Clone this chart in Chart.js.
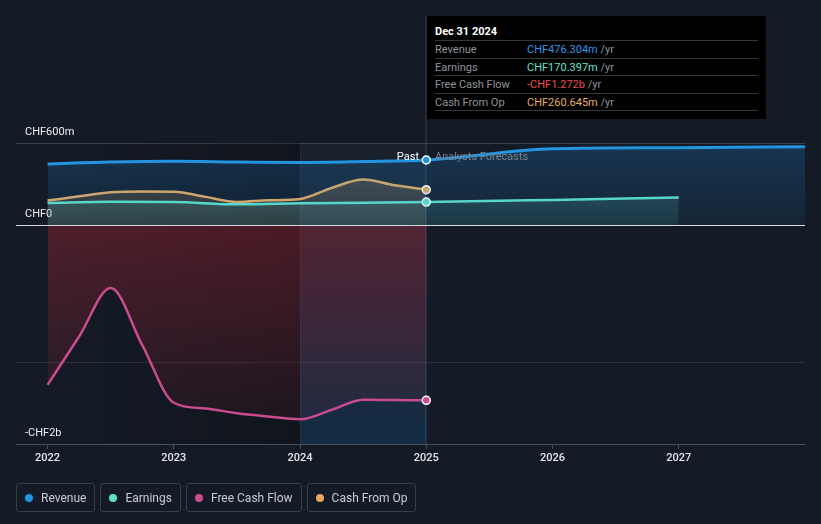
<!DOCTYPE html>
<html>
<head>
<meta charset="utf-8">
<script src="https://cdn.jsdelivr.net/npm/chart.js@4.4.1/dist/chart.umd.min.js"></script>
<style>
  html, body { margin: 0; padding: 0; background: #151b26; }
  #wrap { position: relative; width: 821px; height: 524px; overflow: hidden; font-family: Roboto, "Open Sans", sans-serif; }
  #chart { position: absolute; left: 0; top: 0; }
  #tip { position: absolute; left: 427px; top: 16px; width: 339px; height: 103px; background: #000; box-sizing: border-box; padding: 8px 8px 0 8px; }
  #tip .date { color: #fff; font-size: 11px; font-weight: 700; height: 16px; line-height: 15px; border-bottom: 1px solid #34373c; }
  #tip .row { display: flex; height: 16.5px; line-height: 17px; font-size: 11px; border-bottom: 1px solid #34373c; }
  #tip .k { width: 92px; color: #8f949b; }
  #tip .u { color: #8f949b; }
  .mark { position: absolute; font-size: 11px; top: 150px; line-height: 14px; }
  #past { right: 402px; color: #fff; }
  #fc { left: 435px; color: #7c828b; }
  #legend { position: absolute; left: 16px; top: 483px; display: flex; gap: 5px; }
  #legend .item { height: 27px; border: 1px solid #383d47; border-radius: 3px; display: flex; align-items: center; padding: 0 8px; font-size: 12px; color: #c9ccd1; }
  #legend .dot { width: 8px; height: 8px; border-radius: 50%; margin-right: 8px; }
</style>
</head>
<body>
<div id="wrap">
  <canvas id="chart" width="821" height="524"></canvas>
  <div id="tip"></div>
  <div class="mark" id="past">Past</div>
  <div class="mark" id="fc">Analysts Forecasts</div>
  <div id="legend"></div>
</div>
<script>
"use strict";

// series data (CHF m), x = year
const revenueYears = [2022, 2022.5, 2023, 2023.5, 2024, 2024.5, 2025, 2026, 2027, 2028];
const revenueValues = [448, 462, 467, 462, 458, 465, 476.304, 558, 566, 573];

const earningsYears = [2022, 2022.5, 2023, 2023.5, 2024, 2024.5, 2025, 2026, 2027];
const earningsValues = [164, 172, 171, 154, 161, 165, 170.397, 186, 203];

const fcfYears = [2022, 2022.25, 2022.5, 2022.75, 2023, 2023.25, 2023.5, 2023.75, 2024, 2024.25, 2024.5, 2024.75, 2025];
const fcfValues = [-1160, -808, -455, -870, -1290, -1332, -1366, -1390, -1410, -1342, -1268, -1270, -1272];

const cfoYears = [2022, 2022.25, 2022.5, 2022.75, 2023, 2023.25, 2023.5, 2023.75, 2024, 2024.25, 2024.5, 2024.75, 2025];
const cfoValues = [181, 212, 241, 247, 246, 208, 171, 183, 193, 273, 334, 292, 260.645];

const seriesNames = ['Revenue', 'Earnings', 'Free Cash Flow', 'Cash From Op'];
const seriesColors = ['#2394df', '#5fe0c8', '#cc4a8e', '#e8a95b'];

const xTicks = [2022, 2023, 2024, 2025, 2026, 2027];
const yTickValues = [-1590, -1000, 0, 600];
const yTickLabels = ['-CHF2b', '', 'CHF0', 'CHF600m'];

const tipDate = 'Dec 31 2024';
const tipValues = ['CHF476.304m', 'CHF170.397m', '-CHF1.272b', 'CHF260.645m'];
const tipColors = ['#2f97e2', '#63e3cc', '#f04a4a', '#e8ad63'];

const toPoints = (xs, ys) => xs.map((x, i) => ({ x: x, y: ys[i] }));

// vertical gradient between two values
const vGrad = (ctx, from, to, c1, c2) => {
    const chart = ctx.chart;
    if (!chart.chartArea) return c1;
    const y = chart.scales.y;
    const g = chart.ctx.createLinearGradient(0, y.getPixelForValue(from), 0, y.getPixelForValue(to));
    g.addColorStop(0, c1);
    g.addColorStop(1, c2);
    return g;
};

const markerRadius = (ctx) => (ctx.raw && ctx.raw.x === 2025) ? 4 : 0;

const makeSet = (i, data, width, fill) => ({
    label: seriesNames[i],
    data: data,
    borderColor: seriesColors[i],
    borderWidth: width,
    backgroundColor: fill,
    fill: 'origin',
    cubicInterpolationMode: 'monotone',
    pointRadius: markerRadius,
    pointBackgroundColor: seriesColors[i],
    pointBorderColor: '#ffffff',
    pointBorderWidth: 1.5
});

// background bands, hover line
const bandPlugin = {
    id: 'bands',
    beforeDatasetsDraw(chart) {
        const c = chart.ctx;
        const a = chart.chartArea;
        const x = chart.scales.x;
        const x22 = x.getPixelForValue(2022);
        const x24 = x.getPixelForValue(2024);
        const x25 = x.getPixelForValue(2025);
        c.save();
        let g = c.createLinearGradient(x22, 0, x24, 0);
        g.addColorStop(0, 'rgba(0,0,0,0)');
        g.addColorStop(1, 'rgba(0,0,0,0.22)');
        c.fillStyle = g;
        c.fillRect(x22, a.top, x24 - x22, a.bottom - a.top);
        g = c.createLinearGradient(0, a.top, 0, a.bottom);
        g.addColorStop(0, 'rgba(60,80,110,0.10)');
        g.addColorStop(1, 'rgba(20,85,140,0.30)');
        c.fillStyle = g;
        c.fillRect(x24, a.top, x25 - x24, a.bottom - a.top);
        c.fillStyle = 'rgba(255,255,255,0.05)';
        c.fillRect(Math.round(x24), a.top, 1, a.bottom - a.top);
        c.fillStyle = 'rgba(70,100,130,0.55)';
        c.fillRect(Math.round(x25) - 0.5, 16, 1, a.bottom - 16);
        c.restore();
    },
    afterDatasetsDraw(chart) {
        const c = chart.ctx;
        const a = chart.chartArea;
        const y0 = Math.round(chart.scales.y.getPixelForValue(0)) + 0.5;
        c.save();
        c.strokeStyle = '#d9dadc';
        c.lineWidth = 1;
        c.beginPath();
        c.moveTo(a.left, y0);
        c.lineTo(a.right, y0);
        c.stroke();
        c.restore();
    }
};

const datasets = [
    makeSet(0, toPoints(revenueYears, revenueValues), 3,
        (ctx) => vGrad(ctx, 600, 0, 'rgba(31,142,224,0.24)', 'rgba(31,142,224,0.08)')),
    makeSet(1, toPoints(earningsYears, earningsValues), 2.5,
        (ctx) => vGrad(ctx, 200, 0, 'rgba(95,224,200,0.17)', 'rgba(95,224,200,0.10)')),
    makeSet(2, toPoints(fcfYears, fcfValues), 2.5,
        (ctx) => vGrad(ctx, 0, -1590, 'rgba(200,40,55,0.32)', 'rgba(200,40,55,0.04)')),
    makeSet(3, toPoints(cfoYears, cfoValues), 2.5,
        (ctx) => vGrad(ctx, 300, 0, 'rgba(232,169,91,0.20)', 'rgba(232,169,91,0.10)'))
];

new Chart(document.getElementById('chart'), {
    type: 'line',
    data: { datasets: datasets },
    options: {
        responsive: false,
        animation: false,
        layout: { padding: { top: 143, left: 16, right: 16, bottom: 0 } },
        plugins: {
            legend: { display: false },
            tooltip: { enabled: false }
        },
        scales: {
            x: {
                type: 'linear',
                min: 2021.75,
                max: 2028,
                afterBuildTicks: (s) => { s.ticks = xTicks.map((v) => ({ value: v })); },
                afterFit: (s) => { s.height = 80; },
                grid: { drawOnChartArea: false, drawTicks: true, tickLength: 5, color: '#4a4f58' },
                border: { color: '#4a4f58' },
                ticks: {
                    color: '#e3e5e8',
                    font: { size: 11, family: 'Roboto', weight: '500' },
                    padding: 3,
                    maxRotation: 0,
                    callback: (v) => String(v)
                }
            },
            y: {
                min: -1590,
                max: 600,
                afterBuildTicks: (s) => { s.ticks = yTickValues.map((v) => ({ value: v })); },
                afterFit: (s) => { s.width = 0; },
                grid: {
                    drawTicks: false,
                    color: (ctx) => (ctx.tick && ctx.tick.value === -1000) ? '#2b313b' : '#3b404a'
                },
                border: { display: false },
                ticks: {
                    mirror: true,
                    padding: 9,
                    labelOffset: -11,
                    color: '#eceef0',
                    font: { size: 11, family: 'Roboto' },
                    callback: (v) => {
                        const i = yTickValues.indexOf(v);
                        return i >= 0 ? yTickLabels[i] : '';
                    }
                }
            }
        }
    },
    plugins: [bandPlugin]
});

// tooltip box
const tip = document.getElementById('tip');
let html = `<div class="date">${tipDate}</div>`;
for (let i = 0; i < seriesNames.length; i++) {
    html += `<div class="row"><span class="k">${seriesNames[i]}</span>` +
        `<span style="color:${tipColors[i]}">${tipValues[i]}</span>&nbsp;<span class="u">/yr</span></div>`;
}
tip.innerHTML = html;

// legend
const legend = document.getElementById('legend');
seriesNames.forEach((name, i) => {
    let item = document.createElement('div');
    item.classList.add('item');
    item.innerHTML = `<span class="dot" style="background:${seriesColors[i]}"></span>${name}`;
    legend.append(item);
});
</script>
</body>
</html>
